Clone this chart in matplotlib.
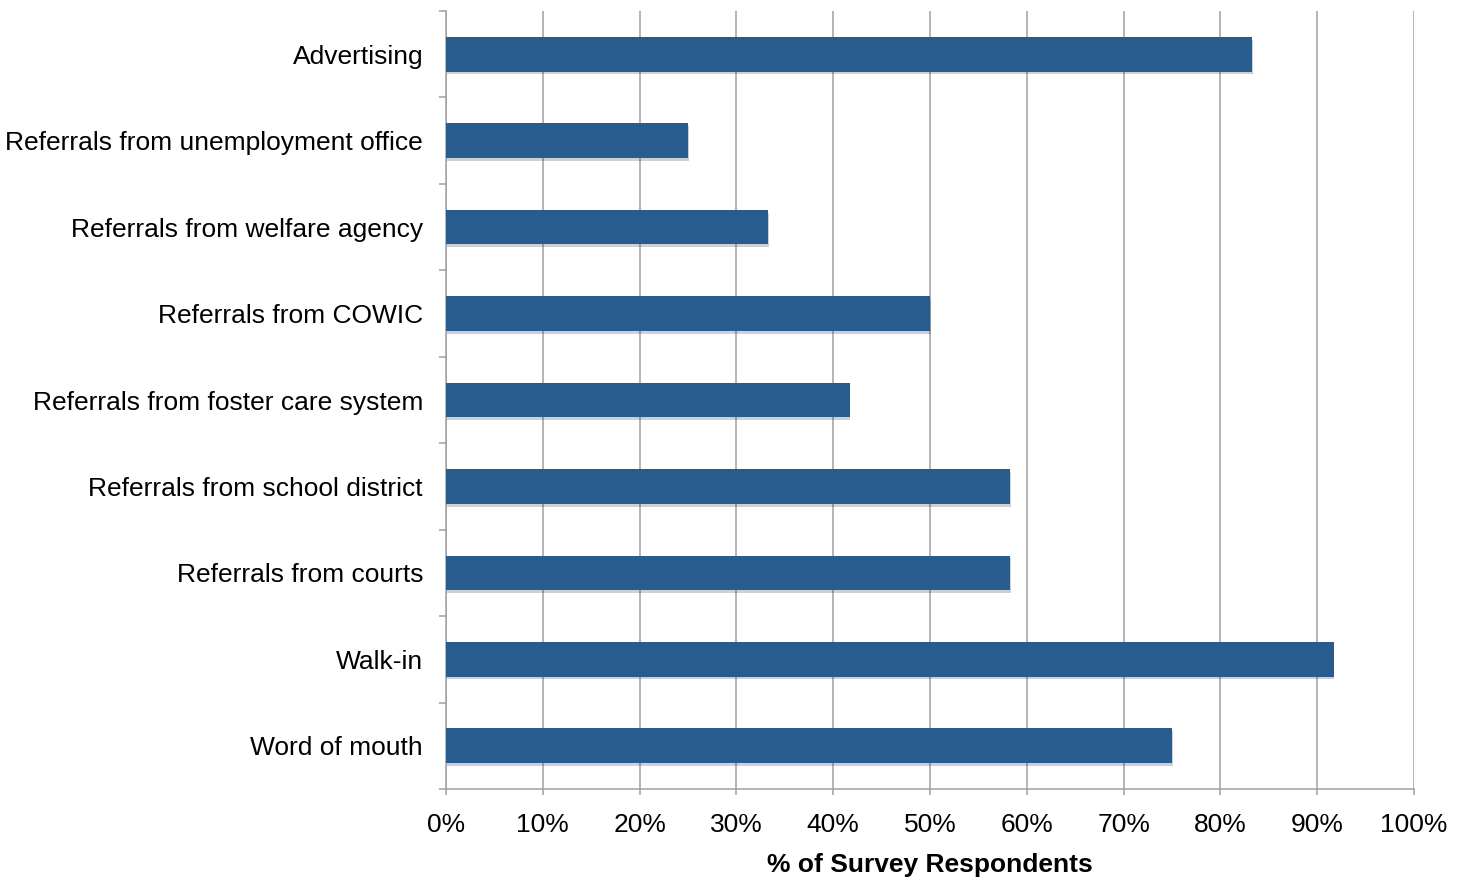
import matplotlib.pyplot as plt
import matplotlib.patheffects as pe
from matplotlib.ticker import FixedLocator, PercentFormatter

# survey shares (12 respondents -> twelfths)
categories = [
    'Advertising',
    'Referrals from unemployment office',
    'Referrals from welfare agency',
    'Referrals from COWIC',
    'Referrals from foster care system',
    'Referrals from school district',
    'Referrals from courts',
    'Walk-in',
    'Word of mouth',
]
shares = [83.3, 25.0, 33.3, 50.0, 41.7, 58.3, 58.3, 91.7, 75.0]
x_ticks = [0, 10, 20, 30, 40, 50, 60, 70, 80, 90, 100]

bar_color = '#285c8f'
grid_color = '#a0a0a0'

plt.rcParams['font.family'] = ['Liberation Sans', 'DejaVu Sans']

fig = plt.figure(figsize=(14.66, 8.8), dpi=100)
ax = fig.add_axes([446 / 1466, 1 - 789 / 880, 968 / 1466, 778 / 880])

pos = list(range(len(categories)))
bars = ax.barh(pos, shares, height=0.4, color=bar_color, zorder=3)
for b in bars:
    b.set_path_effects([pe.SimplePatchShadow(offset=(0.5, -2), alpha=0.2),
                        pe.Normal()])

ax.set_xlim(0, 100)
ax.set_ylim(len(categories) - 0.5, -0.5)
ax.set_xticks(x_ticks)
ax.xaxis.set_major_formatter(PercentFormatter(decimals=0))
ax.set_yticks(pos)
ax.set_yticklabels(categories)
ax.yaxis.set_minor_locator(FixedLocator([p - 0.5 for p in pos] + [len(pos) - 0.5]))

ax.grid(axis='x', color=grid_color, linewidth=1.1, zorder=0)
ax.set_axisbelow(True)

for s in ['top', 'right']:
    ax.spines[s].set_visible(False)
for s in ['left', 'bottom']:
    ax.spines[s].set_color(grid_color)
    ax.spines[s].set_linewidth(1.1)

ax.tick_params(axis='y', which='major', length=0, pad=16.5, labelsize=19)
ax.tick_params(axis='y', which='minor', length=5, width=1.1, color=grid_color)
ax.tick_params(axis='x', which='major', length=4.5, width=1.1, color=grid_color,
               labelsize=19, pad=12.5)

ax.set_xlabel('% of Survey Respondents', fontsize=19, fontweight='bold', labelpad=12)

fig.savefig('out.png', dpi=100)
